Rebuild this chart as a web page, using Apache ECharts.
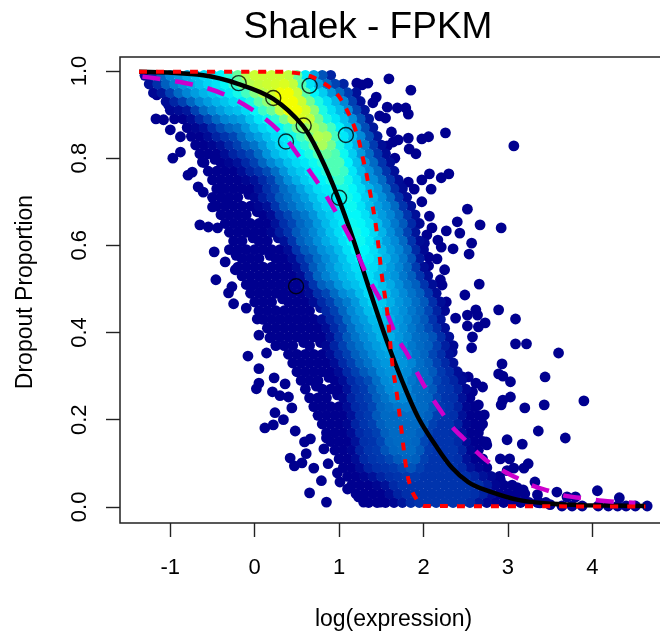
<!DOCTYPE html>
<html><head><meta charset="utf-8">
<style>html,body{margin:0;padding:0;background:#fff;overflow:hidden}#c{width:660px;height:633px}</style>
<script src="https://cdn.jsdelivr.net/npm/echarts@6/dist/echarts.min.js"></script>
</head><body><div id="c"></div>
<script>
// Cloud rows: [x, density level, x, density level, ...]
const r99=[-1.3,0,-1.2,1,-1.1,2,-1,3,-.9,3,-.8,4,-.7,4,-.6,5,-.5,5,-.4,6,-.3,6,-.2,7,-.1,8,0,8,.1,8,.2,8,.3,8,.4,8,.5,7,.6,5,.7,3,.8,1,.9,0];
const r97=[-1.25,0,-1.15,1,-1.05,2,-.95,3,-.85,3,-.75,4,-.65,4,-.55,5,-.45,5,-.35,6,-.25,7,-.15,7,-.05,8,.05,8,.15,8,.25,8,.35,8,.45,8,.55,7,.65,5,.75,3,.85,2,.95,1,1.05,0];
const r95=[-1.2,0,-1.1,0,-1,1,-.9,2,-.8,3,-.7,3,-.6,4,-.5,4,-.4,5,-.3,5,-.2,6,-.1,7,0,7,.1,8,.2,8,.3,9,.4,9,.5,8,.6,7,.7,6,.8,5,.9,3,1,2,1.1,1,1.2,0];
const r93=[-1.05,0,-.95,1,-.85,1,-.75,2,-.65,3,-.55,3,-.45,4,-.35,4,-.25,5,-.15,5,-.05,6,.05,7,.15,7,.25,8,.35,9,.45,9,.55,8,.65,7,.75,6,.85,5,.95,4,1.05,3,1.15,1,1.25,0];
const r91=[-1,0,-.9,0,-.8,0,-.7,1,-.6,2,-.5,3,-.4,3,-.3,4,-.2,4,-.1,5,0,6,.1,7,.2,7,.3,8,.4,9,.5,9,.6,8,.7,8,.8,6,.9,5,1,4,1.1,3,1.2,1,1.3,0];
const r89=[-.95,0,-.85,0,-.75,0,-.65,1,-.55,1,-.45,2,-.35,3,-.25,3,-.15,3,-.05,4,.05,5,.15,6,.25,6,.35,7,.45,8,.55,9,.65,8,.75,7,.85,6,.95,5,1.05,4,1.15,3,1.25,2,1.35,0];
const r87=[-.8,0,-.7,0,-.6,0,-.5,1,-.4,1,-.3,2,-.2,2,-.1,3,0,4,.1,5,.2,5,.3,6,.4,6,.5,7,.6,7,.7,8,.8,7,.9,7,1,6,1.1,4,1.2,3,1.3,1,1.4,0];
const r85=[-.75,0,-.65,0,-.55,0,-.45,1,-.35,1,-.25,1,-.15,2,-.05,3,.05,3,.15,4,.25,5,.35,5,.45,6,.55,7,.65,7,.75,8,.85,8,.95,7,1.05,5,1.15,4,1.25,3,1.35,2,1.45,0];
const r83=[-.7,0,-.6,0,-.5,0,-.4,0,-.3,1,-.2,1,-.1,2,0,2,.1,3,.2,4,.3,5,.4,5,.5,6,.6,6,.7,7,.8,8,.9,7,1,6,1.1,5,1.2,4,1.3,2,1.4,1,1.5,0];
const r81=[-.65,0,-.55,0,-.45,0,-.35,0,-.25,1,-.15,1,-.05,1,.05,2,.15,3,.25,4,.35,5,.45,5,.55,6,.65,6,.75,7,.85,7,.95,7,1.05,6,1.15,4,1.25,3,1.35,2,1.45,1,1.55,0];
const r79=[-.6,0,-.4,0,-.3,0,-.2,0,-.1,1,0,1,.1,2,.2,3,.3,3,.4,4,.5,5,.6,5,.7,6,.8,6,.9,7,1,7,1.1,6,1.2,4,1.3,3,1.4,2,1.5,1,1.6,0];
const r77=[-.55,0,-.45,0,-.35,0,-.25,0,-.15,0,-.05,1,.05,1,.15,1,.25,2,.35,3,.45,4,.55,4,.65,5,.75,6,.85,6,.95,7,1.05,7,1.15,5,1.25,4,1.35,3,1.45,2,1.55,1,1.65,0];
const r75=[-.5,0,-.4,0,-.3,0,-.2,0,-.1,0,0,0,.1,1,.2,1,.3,2,.4,3,.5,4,.6,5,.7,5,.8,6,.9,6,1,7,1.1,6,1.2,5,1.3,3,1.4,3,1.5,2,1.6,1,1.7,0];
const r73=[-.45,0,-.35,0,-.25,0,-.15,0,-.05,0,.05,0,.15,1,.25,1,.35,2,.45,2,.55,3,.65,4,.75,5,.85,5,.95,6,1.05,6,1.15,6,1.25,5,1.35,4,1.45,3,1.55,2,1.65,1,1.75,0];
const r71=[-.5,0,-.4,0,-.3,0,-.2,0,0,0,.1,1,.2,1,.3,2,.4,2,.5,3,.6,3,.7,4,.8,5,.9,5,1,6,1.1,6,1.2,6,1.3,4,1.4,4,1.5,3,1.6,2,1.7,1,1.8,0];
const r69=[-.45,0,-.35,0,-.25,0,-.15,0,-.05,0,.05,0,.15,0,.25,1,.35,2,.45,2,.55,3,.65,3,.75,4,.85,5,.95,5,1.05,6,1.15,6,1.25,5,1.35,4,1.45,3,1.55,3,1.65,2,1.75,1,1.85,0];
const r67=[-.4,0,-.3,0,-.2,0,-.1,0,.1,0,.2,0,.3,1,.4,1,.5,2,.6,2,.7,3,.8,4,.9,4,1,5,1.1,6,1.2,6,1.3,5,1.4,4,1.5,3,1.6,3,1.7,2,1.8,1,1.9,0];
const r65=[-.35,0,-.25,0,-.15,0,-.05,0,.05,0,.15,0,.25,0,.35,1,.45,1,.55,2,.65,2,.75,3,.85,4,.95,5,1.05,5,1.15,6,1.25,6,1.35,5,1.45,4,1.55,3,1.65,2,1.75,2,1.85,1,1.95,0];
const r63=[-.3,0,-.2,0,-.1,0,0,0,.1,0,.2,0,.3,1,.4,1,.5,2,.6,2,.7,3,.8,3,.9,4,1,5,1.1,6,1.2,6,1.3,6,1.4,5,1.5,4,1.6,3,1.7,2,1.8,1,1.9,0];
const r61=[-.25,0,-.15,0,.05,0,.15,0,.35,0,.45,1,.55,2,.65,2,.75,3,.85,4,.95,4,1.05,5,1.15,6,1.25,6,1.35,5,1.45,4,1.55,3,1.65,3,1.75,2,1.85,1,1.95,0];
const r59=[-.3,0,-.2,0,-.1,0,0,0,.1,0,.2,0,.3,0,.4,0,.5,1,.6,2,.7,2,.8,3,.9,3,1,4,1.1,5,1.2,6,1.3,6,1.4,5,1.5,4,1.6,3,1.7,3,1.8,2,1.9,1,2,0];
const r57=[-.15,0,-.05,0,.05,0,.25,0,.35,0,.45,0,.55,1,.65,1,.75,2,.85,3,.95,3,1.05,4,1.15,5,1.25,6,1.35,5,1.45,5,1.55,4,1.65,3,1.75,2,1.85,2,1.95,0];
const r55=[-.2,0,-.1,0,0,0,.1,0,.2,0,.3,0,.4,0,.5,0,.6,1,.7,2,.8,2,.9,3,1,4,1.1,4,1.2,5,1.3,5,1.4,5,1.5,4,1.6,3,1.7,3,1.8,2,1.9,1,2,0];
const r53=[-.15,0,-.05,0,.05,0,.15,0,.25,0,.35,0,.45,0,.55,0,.65,1,.75,2,.85,3,.95,3,1.05,4,1.15,4,1.25,5,1.35,5,1.45,4,1.55,3,1.65,3,1.75,2,1.85,2,1.95,1,2.05,0];
const r51=[-.1,0,0,0,.1,0,.2,0,.3,0,.4,0,.5,0,.6,0,.7,1,.8,2,.9,2,1,3,1.1,4,1.2,4,1.3,5,1.4,5,1.5,4,1.6,4,1.7,3,1.8,2,1.9,2,2,1,2.1,0];
const r49=[-.05,0,.05,0,.15,0,.25,0,.35,0,.45,0,.55,0,.65,0,.75,1,.85,1,.95,2,1.05,3,1.15,3,1.25,4,1.35,5,1.45,5,1.55,4,1.65,3,1.75,3,1.85,2,1.95,2,2.05,1,2.15,0];
const r47=[0,0,.1,0,.2,0,.4,0,.5,0,.6,0,.7,0,.8,1,.9,1,1,2,1.1,2,1.2,3,1.3,4,1.4,5,1.5,4,1.6,4,1.7,3,1.8,3,1.9,2,2,2,2.1,1,2.2,0];
const r45=[.05,0,.15,0,.25,0,.35,0,.45,0,.55,0,.65,0,.85,1,.95,1,1.05,2,1.15,3,1.25,3,1.35,4,1.45,5,1.55,4,1.65,3,1.75,3,1.85,2,1.95,2,2.05,1,2.15,1,2.25,0];
const r43=[.1,0,.2,0,.3,0,.4,0,.5,0,.6,0,.7,0,.8,0,.9,1,1,1,1.1,2,1.2,3,1.3,3,1.4,4,1.5,4,1.6,4,1.7,3,1.8,3,1.9,2,2,2,2.1,1,2.2,0];
const r41=[.15,0,.25,0,.35,0,.45,0,.55,0,.65,0,.75,0,.85,0,.95,1,1.05,1,1.15,2,1.25,3,1.35,3,1.45,4,1.55,4,1.65,3,1.75,3,1.85,2,1.95,2,2.05,1,2.15,1,2.25,0];
const r39=[.2,0,.3,0,.4,0,.5,0,.6,0,.7,0,.8,0,.9,0,1,1,1.1,2,1.2,2,1.3,3,1.4,3,1.5,4,1.6,4,1.7,3,1.8,3,1.9,2,2,2,2.1,2,2.2,1,2.3,0];
const r37=[.25,0,.35,0,.45,0,.65,0,.85,0,.95,1,1.05,1,1.15,2,1.25,2,1.35,3,1.45,3,1.55,4,1.65,3,1.75,3,1.85,2,1.95,2,2.05,2,2.15,1,2.25,1,2.35,0];
const r35=[.4,0,.5,0,.6,0,.7,0,.8,0,.9,0,1,1,1.1,1,1.2,2,1.3,2,1.4,3,1.5,3,1.6,4,1.7,3,1.8,3,1.9,2,2,2,2.1,1,2.2,1,2.3,0];
const r33=[.45,0,.55,0,.65,0,.75,0,.85,0,.95,0,1.05,1,1.15,1,1.25,2,1.35,2,1.45,3,1.55,3,1.65,3,1.75,3,1.85,3,1.95,2,2.05,2,2.15,1,2.25,1,2.35,0];
const r31=[.5,0,.6,0,.7,0,.8,0,.9,0,1,0,1.1,1,1.2,1,1.3,2,1.4,2,1.5,3,1.6,3,1.7,3,1.8,3,1.9,2,2,2,2.1,2,2.2,1,2.3,1,2.4,0];
const r29=[.55,0,.65,0,.75,0,.95,0,1.05,0,1.15,1,1.25,1,1.35,1,1.45,2,1.55,3,1.65,3,1.75,3,1.85,2,1.95,2,2.05,2,2.15,1,2.25,1,2.35,1,2.45,0];
const r27=[.6,0,.8,0,.9,0,1,0,1.1,0,1.2,1,1.3,1,1.4,2,1.5,2,1.6,3,1.7,3,1.8,3,1.9,2,2,2,2.1,2,2.2,1,2.3,1,2.4,1,2.5,0];
const r25=[.65,0,.75,0,.85,0,1.05,0,1.15,1,1.25,1,1.35,1,1.45,2,1.55,2,1.65,3,1.75,3,1.85,2,1.95,2,2.05,2,2.15,1,2.25,1,2.35,1,2.45,0,2.55,0];
const r23=[.7,0,.8,0,.9,0,1,0,1.1,0,1.2,1,1.3,1,1.4,1,1.5,2,1.6,2,1.7,2,1.8,3,1.9,2,2,2,2.1,2,2.2,1,2.3,1,2.4,1,2.5,0,2.6,0];
const r21=[.75,0,.85,0,.95,0,1.05,0,1.15,0,1.25,1,1.35,1,1.45,2,1.55,2,1.65,2,1.75,2,1.85,2,1.95,2,2.05,2,2.15,1,2.25,1,2.35,1,2.45,0,2.55,0,2.65,0];
const r19=[.8,0,.9,0,1,0,1.1,0,1.2,1,1.3,1,1.4,1,1.5,2,1.6,2,1.7,2,1.8,2,1.9,2,2,2,2.1,1,2.2,1,2.3,1,2.4,1,2.5,0,2.6,0,2.7,0];
const r17=[.85,0,.95,0,1.05,0,1.15,0,1.25,1,1.35,1,1.45,1,1.55,2,1.65,2,1.75,2,1.85,2,1.95,2,2.05,1,2.15,1,2.25,1,2.35,1,2.45,0,2.55,0,2.65,0];
const r15=[.9,0,1,0,1.1,0,1.2,0,1.3,1,1.4,1,1.5,1,1.6,2,1.7,2,1.8,2,1.9,2,2,1,2.1,1,2.2,1,2.3,1,2.4,1,2.5,0,2.6,0,2.7,0];
const r13=[.95,0,1.05,0,1.15,0,1.25,1,1.35,1,1.45,1,1.55,2,1.65,2,1.75,2,1.85,2,1.95,2,2.05,1,2.15,1,2.25,1,2.35,1,2.45,1,2.55,0,2.65,0];
const r11=[1,0,1.1,0,1.2,0,1.3,1,1.4,1,1.5,1,1.6,1,1.7,2,1.8,2,1.9,2,2,1,2.1,1,2.2,1,2.3,1,2.4,1,2.5,0,2.6,0,2.7,0];
const r09=[1.05,0,1.15,0,1.25,0,1.35,1,1.45,1,1.55,1,1.65,1,1.75,1,1.85,2,1.95,1,2.05,1,2.15,1,2.25,1,2.35,1,2.45,1,2.55,0,2.65,0,2.75,0];
const r07=[1.1,0,1.2,0,1.3,0,1.4,0,1.5,1,1.6,1,1.7,1,1.8,1,1.9,1,2,1,2.1,1,2.2,1,2.3,1,2.4,1,2.5,1,2.6,1,2.7,0,2.8,0,2.9,0];
const r05=[1.15,0,1.25,0,1.35,0,1.45,0,1.55,0,1.65,1,1.75,1,1.85,1,1.95,1,2.05,1,2.15,1,2.25,1,2.35,1,2.45,1,2.55,1,2.65,1,2.75,1,2.85,0,2.95,0,3.05,0];
const r03=[1.2,0,1.3,0,1.4,0,1.5,0,1.6,0,1.7,1,1.8,1,1.9,1,2,1,2.1,1,2.2,1,2.3,1,2.4,1,2.5,1,2.6,1,2.7,1,2.8,0,2.9,0,3,0,3.1,0,3.2,0];
const r01=[1.35,0,1.45,0,1.55,0,1.65,0,1.75,0,1.85,1,1.95,1,2.05,1,2.15,1,2.25,1,2.35,1,2.45,1,2.55,1,2.65,0,2.75,0,2.85,0,2.95,0,3.05,0,3.15,0,3.25,0,3.35,0,3.45,0];
const rowLevels=[[.99,r99],[.97,r97],[.95,r95],[.93,r93],[.91,r91],[.89,r89],[.87,r87],[.85,r85],[.83,r83],[.81,r81],[.79,r79],[.77,r77],[.75,r75],[.73,r73],[.71,r71],[.69,r69],[.67,r67],[.65,r65],[.63,r63],[.61,r61],[.59,r59],[.57,r57],[.55,r55],[.53,r53],[.51,r51],[.49,r49],[.47,r47],[.45,r45],[.43,r43],[.41,r41],[.39,r39],[.37,r37],[.35,r35],[.33,r33],[.31,r31],[.29,r29],[.27,r27],[.25,r25],[.23,r23],[.21,r21],[.19,r19],[.17,r17],[.15,r15],[.13,r13],[.11,r11],[.09,r09],[.07,r07],[.05,r05],[.03,r03],[.01,r01]];
// Isolated dark points
const outliersRight=[[1.59,.982],[1.85,.956],[1.21,.972],[1.27,.968],[1.34,.972],[1.44,.94],[1.40,.927],[1.57,.917],[1.69,.915],[1.79,.915],[1.82,.901],[1.48,.897],[1.55,.892],[1.62,.86],[1.70,.842],[1.64,.837],[1.57,.828],[1.82,.846],[1.98,.844],[2.06,.849],[2.26,.858],[1.83,.821],[1.91,.81],[3.07,.828],[1.66,.80],[2.07,.764],[2.30,.764],[2.21,.755],[1.98,.75],[1.82,.745],[1.72,.739],[1.89,.729],[2.09,.729],[1.98,.70],[2.52,.683],[2.07,.667],[2.40,.654],[2.67,.647],[2.92,.64],[2.27,.633],[2.43,.628],[2.10,.64],[2.04,.624],[2.17,.612],[2.01,.605],[2.57,.605],[2.21,.596],[2.35,.592],[2.54,.58],[2.06,.573],[2.16,.569],[2.06,.553],[2.25,.544],[2.20,.521],[2.22,.509],[2.66,.511],[2.49,.486],[2.27,.47],[2.38,.433],[2.52,.44],[2.62,.452],[2.64,.44],[2.89,.452],[3.09,.431],[2.73,.422],[2.65,.413],[2.52,.415],[2.58,.39],[2.57,.365],[2.34,.355],[3.09,.374],[3.22,.374],[3.60,.353],[2.93,.328],[2.89,.305],[2.94,.30],[3.03,.287],[3.44,.298],[2.46,.298],[2.53,.298],[2.62,.284],[2.70,.275],[2.58,.264],[3.03,.252],[2.94,.245],[2.92,.234],[3.20,.227],[3.43,.234],[3.90,.243],[2.65,.234],[2.72,.211],[3.36,.174],[3.68,.158],[2.67,.183],[2.99,.154],[3.17,.144],[2.74,.149],[2.75,.142],[2.91,.11],[3.02,.11],[3.24,.099],[3.19,.089],[3.07,.089],[2.99,.083],[3.32,.057],[2.91,.062],[3.11,.044],[3.18,.039],[3.35,.028],[3.58,.034],[4.06,.037],[3.80,.023],[4.32,.021],[3.70,.023],[4.07,.002],[4.19,.002],[4.30,.002],[4.40,.002],[4.51,.002],[4.65,.002],[3.88,.002],[3.76,.002],[3.64,.002],[3.50,.005],[3.38,.009]];
const outliersLeft=[[-1.17,.89],[-.97,.80],[-.88,.814],[-.79,.761],[-.74,.768],[-.67,.734],[-.61,.722],[-.65,.647],[-.55,.642],[-.44,.64],[-.48,.585],[-.35,.562],[-.23,.544],[-.46,.521],[-.27,.505],[-.03,.509],[-1.16,.945],[-1.02,.922],[-1.08,.888],[-1,.865],[-.88,.849],[-.62,.791],[-.5,.688],[-.41,.732],[-.33,.697],[-.31,.491],[-.25,.466],[-.1,.456],[.03,.431],[.05,.394],[.18,.388],[-.08,.346],[.14,.353],[.05,.317],[.23,.296],[.05,.284],[.02,.271],[.36,.282],[.21,.264],[.3,.255],[.4,.252],[.24,.216],[.44,.227],[.12,.181],[.22,.188],[.34,.2],[.48,.174],[.59,.149],[.66,.156],[.85,.158],[.82,.133],[.61,.122],[.42,.112],[.47,.094],[.56,.101],[.87,.099],[.7,.089],[.79,.06],[.65,.032],[.85,.011],[.98,.078],[1.01,.057],[1.1,.041],[1.23,.023],[1.29,.011],[1.49,.011]];
const darkInner=[[-.47,.797],[-.07,.717],[.03,.677],[-.02,.617],[.28,.617],[.18,.577],[-.22,.577],[.78,.457],[.33,.477],[.58,.377],[.78,.377],[.88,.297],[.73,.277],[.98,.257]];
const openCircles=[[-.19,.972],[.22,.938],[.58,.875],[.37,.838],[.65,.966],[1.08,.853],[1,.709],[.49,.506]];
const blackCurve=[[-1.37,.998],[-.61,.99],[-.19,.97],[.22,.936],[.57,.874],[.775,.805],[.99,.709],[1.17,.612],[1.34,.51],[1.57,.378],[1.75,.287],[1.94,.204],[2.14,.142],[2.34,.089],[2.53,.057],[2.73,.039],[3.12,.016],[3.52,.007],[3.91,.004],[4.63,.002]];
const magentaCurve=[[-1.33,.987],[-.74,.969],[-.37,.947],[-.02,.91],[.3,.86],[.54,.8],[.78,.734],[.98,.67],[1.17,.601],[1.34,.527],[1.54,.456],[1.69,.387],[1.8,.353],[1.99,.284],[2.1,.25],[2.22,.216],[2.34,.183],[2.47,.158],[2.61,.13],[2.77,.103],[2.94,.083],[3.11,.066],[3.3,.048],[3.48,.037],[3.64,.027],[3.88,.02],[4.12,.014],[4.51,.009]];
const redCurve=[[-1.37,.998],[.3,.998],[.5,.995],[.66,.988],[.87,.965],[1.01,.938],[1.19,.867],[1.29,.793],[1.37,.718],[1.44,.639],[1.51,.525],[1.57,.447],[1.63,.329],[1.69,.251],[1.74,.174],[1.79,.096],[1.83,.057],[1.9,.023],[2.02,.002],[4.63,.001]];
const titleText='Shalek - FPKM';
const xName='log(expression)';
const yName='Dropout Proportion';
const xTicks=[-1,0,1,2,3,4];
const yTicks=[0,0.2,0.4,0.6,0.8,1];
const levelColors=['#00008f','#0032ac','#0066c2','#008eda','#00b6ea','#00daf6','#00f8fc','#44ffc0','#b4ff50','#f4ff00'];

const raw=[];
rowLevels.forEach(([y,row])=>{for(let i=0;i<row.length;i+=2)raw.push([row[i],y,row[i+1]]);});
outliersRight.concat(outliersLeft,darkInner).forEach(p=>raw.push([p[0],p[1],0]));
// Colour only: soften the hand-read levels across neighbouring points, as a density colouring would
const cloud=raw.map(p=>{
  let s=p[2]*3,n=3;
  raw.forEach(q=>{if(q!==p&&Math.abs(q[0]-p[0])<=.11&&Math.abs(q[1]-p[1])<=.022){s+=q[2];n++;}});
  return [p[0],p[1],+(s/n).toFixed(2)];
});
cloud.sort((a,b)=>a[2]-b[2]);

const font='"Liberation Sans", Arial, Helvetica, sans-serif';
const chart=echarts.init(document.getElementById('c'),null,{renderer:'canvas'});
const lineS=(name,data,color,width,dash,z)=>({name,type:'line',data,smooth:0.35,symbol:'none',z,animation:false,
  lineStyle:{color,width,type:dash||'solid',cap:'butt'}});
chart.setOption({
  animation:false,backgroundColor:'#fff',
  title:{text:titleText,left:363,top:4,textAlign:'center',textStyle:{fontFamily:font,fontSize:37,fontWeight:'normal',color:'#000'}},
  grid:{left:120,right:-5,top:57,bottom:110,outerBoundsMode:'none',show:true,borderColor:'#222',borderWidth:1.5,backgroundColor:'transparent'},
  xAxis:{type:'value',min:-1.596,max:4.861,name:xName,nameLocation:'middle',nameGap:85.5,
    nameTextStyle:{fontFamily:font,fontSize:23,color:'#000',padding:[0,0,0,2]},
    splitLine:{show:false},axisLine:{show:false,onZero:false},
    axisTick:{show:true,length:14,customValues:xTicks,lineStyle:{color:'#222',width:1.4}},
    axisLabel:{customValues:xTicks,margin:34,fontFamily:font,fontSize:22,color:'#000',formatter:v=>String(v)}},
  yAxis:{type:'value',min:-0.037,max:1.032,name:yName,nameLocation:'middle',nameGap:83,
    nameTextStyle:{fontFamily:font,fontSize:23,color:'#000',padding:[0,4,0,0]},
    splitLine:{show:false},axisLine:{show:false,onZero:false},
    axisTick:{show:true,length:14,customValues:yTicks,lineStyle:{color:'#222',width:1.4}},
    axisLabel:{customValues:yTicks,rotate:90,margin:40,fontFamily:font,fontSize:22,color:'#000',align:'center',verticalAlign:'middle',formatter:v=>v.toFixed(1)}},
  visualMap:{show:false,type:'continuous',seriesIndex:0,dimension:2,min:0,max:8.6,inRange:{color:levelColors}},
  series:[
    {name:'genes',type:'scatter',data:cloud,symbolSize:10.8,large:false,progressive:0,z:2,animation:false,itemStyle:{opacity:1}},
    {name:'highlighted',type:'scatter',data:openCircles,symbolSize:15,z:3,animation:false,itemStyle:{color:'rgba(0,0,0,0)',borderColor:'#000',borderWidth:1.4}},
    lineS('fit',blackCurve,'#000',4.5,null,4),
    lineS('magenta',magentaCurve,'#cc00cc',4.5,[18,15],5),
    lineS('red',redCurve,'#ff0000',4,[8,9],6)
  ]
});
</script></body></html>
